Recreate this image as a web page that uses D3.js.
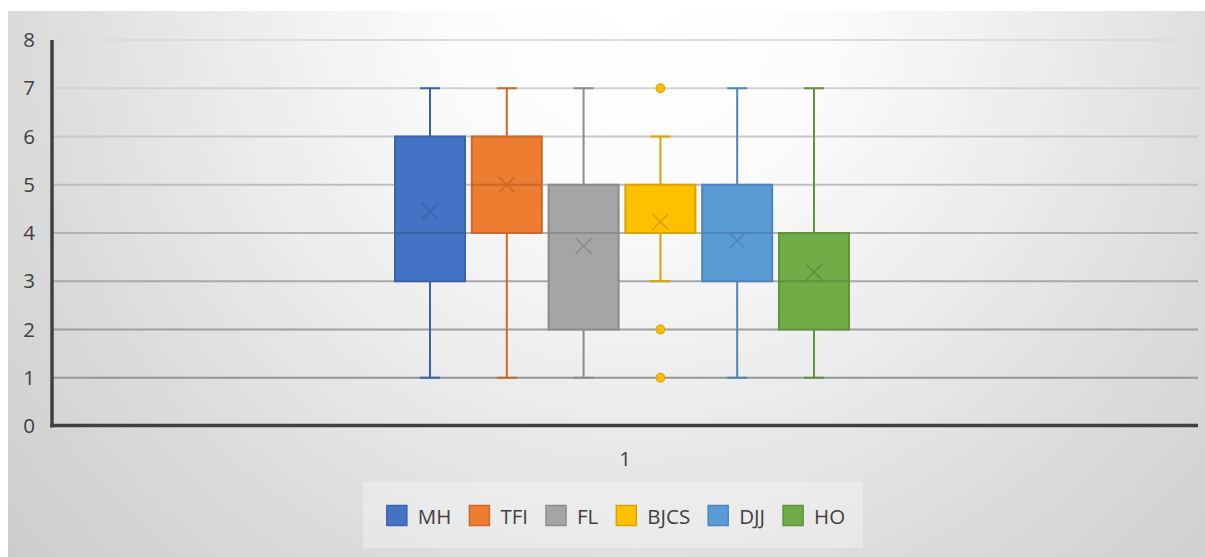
<!DOCTYPE html>
<html><head><meta charset="utf-8">
<script src="https://cdn.jsdelivr.net/npm/d3@7"></script>
<style>html,body{margin:0;padding:0;background:#fff;}svg{display:block;}</style>
</head><body>
<svg id="chart" width="1205" height="557"></svg>
<script>
const categories = ["1"];
const seriesNames = ["MH", "TFI", "FL", "BJCS", "DJJ", "HO"];
const mins    = [1, 1, 1, 3, 1, 1];
const q1s     = [3, 4, 2, 4, 3, 2];
const medians = [4, 5, 4, 4, 4, 3];
const q3s     = [6, 6, 5, 5, 5, 4];
const maxs    = [7, 7, 7, 6, 7, 7];
const means   = [4.45, 5.0, 3.73, 4.23, 3.84, 3.19];
const outliers = [[], [], [], [7, 2, 1], [], []];
const yTicks = [0, 1, 2, 3, 4, 5, 6, 7, 8];

const fills   = ["#4472C4", "#ED7D31", "#A5A5A5", "#FFC000", "#5B9BD5", "#70AD47"];
const strokes = ["#3A63AD", "#C9692A", "#8C8C8C", "#D9A300", "#4D85B8", "#5F933C"];

const svg = d3.select("#chart");
const W = 1205, H = 557;
const defs = svg.append("defs");
const rg = defs.append("radialGradient").attr("id", "bg")
  .attr("gradientUnits", "userSpaceOnUse")
  .attr("cx", 640).attr("cy", 0).attr("r", 840);
[[0, "#ffffff"], [0.22, "#fcfcfc"], [0.5, "#ebebeb"], [0.72, "#dcdcdc"], [1, "#cdcdcd"]]
  .forEach(([o, c]) => rg.append("stop").attr("offset", o).attr("stop-color", c));

svg.append("rect").attr("x", 8).attr("y", 11).attr("width", W - 8).attr("height", H - 11)
  .attr("fill", "url(#bg)");

const plotL = 52, plotR = 1198, plotT = 40, plotB = 426;
const y = d3.scaleLinear().domain([0, 8]).range([plotB, plotT]);
const x0 = d3.scaleBand().domain(categories).range([plotL, plotR]);
const gc = x0("1") + x0.bandwidth() / 2 - 3;
const x1 = d3.scaleBand().domain(seriesNames)
  .range([gc - 227, gc + 227])
  .paddingInner(0.0885).paddingOuter(0);

const font = "'Open Sans', 'DejaVu Sans', sans-serif";
const textCol = "#404040";
const fs = 20.5;

// gridlines
const gridCol = d3.scaleLinear().domain([8, 1]).range(["#dcdcdc", "#959595"]);
svg.append("g").selectAll("line").data(yTicks.filter(t => t > 0)).join("line")
  .attr("x1", plotL).attr("x2", plotR)
  .attr("y1", d => y(d)).attr("y2", d => y(d))
  .attr("stroke", d => gridCol(d)).attr("stroke-width", 2);

// y axis labels
const yAxis = d3.axisLeft(y).tickValues(yTicks).tickSize(0).tickPadding(17);
const ya = svg.append("g").attr("transform", `translate(${plotL},0)`).call(yAxis);
ya.select(".domain").remove();
ya.selectAll("text").attr("font-family", font).attr("font-size", fs).attr("fill", textCol);

// x axis
const xAxis = d3.axisBottom(x0).tickSize(0).tickPadding(25);
const xa = svg.append("g").attr("transform", `translate(0,${plotB})`).call(xAxis);
xa.select(".domain").remove();
xa.selectAll("text").attr("font-family", font).attr("font-size", fs).attr("fill", textCol);

// boxes
const g = svg.append("g");
seriesNames.forEach((s, i) => {
  const bx = x1(s), bw = x1.bandwidth(), cx = bx + bw / 2;
  const sc = strokes[i];
  const gg = g.append("g");
  gg.append("line").attr("x1", cx).attr("x2", cx).attr("y1", y(q3s[i])).attr("y2", y(maxs[i]))
    .attr("stroke", sc).attr("stroke-width", 2);
  gg.append("line").attr("x1", cx).attr("x2", cx).attr("y1", y(q1s[i])).attr("y2", y(mins[i]))
    .attr("stroke", sc).attr("stroke-width", 2);
  [mins[i], maxs[i]].forEach(v => gg.append("line")
    .attr("x1", cx - 10).attr("x2", cx + 10).attr("y1", y(v)).attr("y2", y(v))
    .attr("stroke", sc).attr("stroke-width", 2));
  gg.append("rect").attr("x", bx).attr("y", y(q3s[i])).attr("width", bw)
    .attr("height", y(q1s[i]) - y(q3s[i]))
    .attr("fill", fills[i]).attr("stroke", sc).attr("stroke-width", 2);
  gg.append("line").attr("x1", bx).attr("x2", bx + bw).attr("y1", y(medians[i])).attr("y2", y(medians[i]))
    .attr("stroke", sc).attr("stroke-width", 2);
  const my = y(means[i]), r = 8;
  gg.append("path").attr("d", `M${cx - r},${my - r}L${cx + r},${my + r}M${cx - r},${my + r}L${cx + r},${my - r}`)
    .attr("stroke", sc).attr("stroke-width", 1.6).attr("fill", "none");
  outliers[i].forEach(v => gg.append("circle").attr("cx", cx).attr("cy", y(v)).attr("r", 4.3)
    .attr("fill", fills[i]).attr("stroke", sc).attr("stroke-width", 1.2));
});

// axis lines
svg.append("line").attr("x1", plotL).attr("x2", plotL).attr("y1", plotT).attr("y2", plotB + 1.5)
  .attr("stroke", "#404040").attr("stroke-width", 3.5);
svg.append("line").attr("x1", plotL - 1.75).attr("x2", plotR).attr("y1", plotB - 0.5).attr("y2", plotB - 0.5)
  .attr("stroke", "#404040").attr("stroke-width", 3.5);

// legend
const lg = svg.append("g");
lg.append("rect").attr("x", 363).attr("y", 482).attr("width", 500).attr("height", 66)
  .attr("fill", "#ffffff").attr("fill-opacity", 0.3);
const items = lg.selectAll("g.item").data(seriesNames).join("g").attr("class", "item");
items.append("text").text(d => d).attr("font-family", font).attr("font-size", fs)
  .attr("fill", textCol).attr("dominant-baseline", "central");
const widths = [];
items.each(function () { widths.push(d3.select(this).select("text").node().getComputedTextLength()); });
const gap = 31, sep = 18;
const total = d3.sum(widths) + seriesNames.length * gap + (seriesNames.length - 1) * sep;
let lx = 363 + 250 - total / 2 + 3;
items.each(function (d, i) {
  const it = d3.select(this);
  it.insert("rect", "text").attr("x", lx).attr("y", 505.5).attr("width", 20).attr("height", 20)
    .attr("fill", fills[i]).attr("stroke", strokes[i]).attr("stroke-width", 1.5);
  it.select("text").attr("x", lx + gap).attr("y", 516);
  lx += gap + widths[i] + sep;
});
</script>
</body></html>
